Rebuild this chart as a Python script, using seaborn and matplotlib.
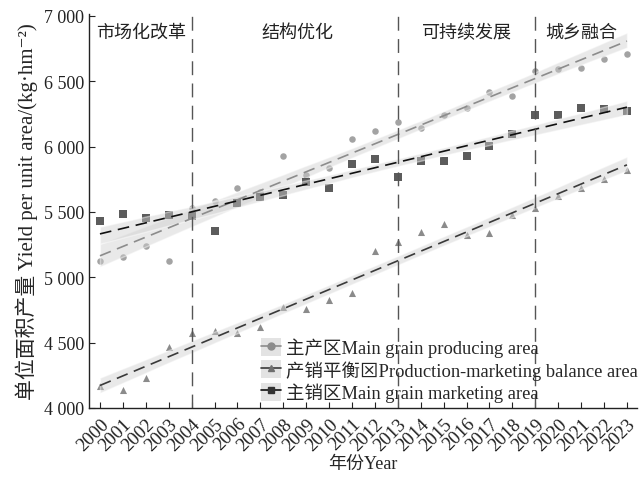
import numpy as np
import pandas as pd
import matplotlib
matplotlib.use("Agg")
import matplotlib.pyplot as plt
import seaborn as sns
from matplotlib.lines import Line2D
from matplotlib.patches import Patch

years = list(range(2000, 2024))
producing = [5125, 5155, 5240, 5125, 5530, 5584, 5683, 5650, 5929, 5780, 5837, 6059,
             6120, 6189, 6143, 6242, 6296, 6418, 6388, 6579, 6594, 6602, 6671, 6709]
balance = [4168, 4138, 4230, 4467, 4574, 4589, 4574, 4620, 4773, 4758, 4826, 4880,
           5201, 5270, 5347, 5408, 5324, 5339, 5477, 5530, 5622, 5684, 5752, 5821]
marketing = [5431, 5485, 5454, 5477, 5470, 5355, 5569, 5615, 5630, 5730, 5684, 5867,
             5906, 5768, 5890, 5890, 5929, 6005, 6097, 6242, 6242, 6296, 6288, 6273]

labels = ["主产区Main grain producing area",
          "产销平衡⊠Production-marketing balance area",
          "主销区Main grain marketing area"]
period_cuts = [2004, 2013, 2019]
period_names = ["市场化改革", "结构优化", "可持续发展", "城乡融合"]
period_centers = [2001.8, 2008.6, 2016.0, 2021.0]

sns.set_theme(style="ticks")
fam = ["Liberation Serif", "Noto Sans CJK SC", "DejaVu Sans"]
plt.rcParams["font.family"] = fam
plt.rcParams["xtick.direction"] = "in"
plt.rcParams["ytick.direction"] = "in"

df = pd.DataFrame({"year": years, "producing": producing,
                   "balance": balance, "marketing": marketing})

fig = plt.figure(figsize=(6.4, 4.81), dpi=100)
ax = fig.add_axes([0.139, 0.150, 0.856, 0.819])

styles = [
    ("producing", "o", "#8c8c8c", "#8c8c8c", 22),
    ("balance", "^", "#6e6e6e", "#3a3a3a", 26),
    ("marketing", "s", "#333333", "#111111", 26),
]
handles = []
for (col, mk, mc, lc, s), lab in zip(styles, labels):
    sns.regplot(data=df, x="year", y=col, ax=ax, marker=mk, ci=95,
                scatter_kws=dict(s=s, color=mc, linewidths=0),
                line_kws=dict(color=lc, lw=1.2, dashes=(7, 4)))
    band = ax.collections[-1]
    band.set_facecolor("#cfcfcf")
    band.set_alpha(0.45)
    h = (Patch(facecolor="#e3e3e3", edgecolor="none"),
         Line2D([], [], color=lc, lw=1.2, marker=mk, markersize=5,
                markerfacecolor=mc, markeredgecolor=mc))
    handles.append(h)

for c in period_cuts:
    ax.axvline(c, color="#555555", lw=1.0, dashes=(10, 6))
for xc, name in zip(period_centers, period_names):
    ax.text(xc, 6875, name, ha="center", va="center", fontsize=13, color="#222222")

ax.set_xlim(1999.52, 2023.43)
ax.set_ylim(4000, 7015)
ax.set_xticks(years)
ax.set_xticklabels([str(y) for y in years], rotation=45, ha="right",
                   rotation_mode="anchor", fontsize=13.5)
yt = list(range(4000, 7001, 500))
ax.set_yticks(yt)
ax.set_yticklabels([f"{v:,}".replace(",", " ") for v in yt], fontsize=13)
ax.tick_params(length=4, width=0.8, colors="#222222")
ax.tick_params(axis="x", pad=5)
sns.despine(ax=ax)
for sp in ["left", "bottom"]:
    ax.spines[sp].set_color("#222222")
    ax.spines[sp].set_linewidth(1.0)

ax.set_xlabel("年份Year", fontsize=13, labelpad=1)
ax.set_ylabel("单位面积产量 Yield per unit area/(kg·hm⁻²)", fontsize=15, labelpad=4)

ax.legend(handles, labels, loc="upper left", bbox_to_anchor=(0.31, 0.183),
          frameon=False, fontsize=13.3, handlelength=1.1, handleheight=1.15,
          handletextpad=0.3, labelspacing=0.15, borderpad=0.1, borderaxespad=0)

fig.savefig("out.png", dpi=100)
